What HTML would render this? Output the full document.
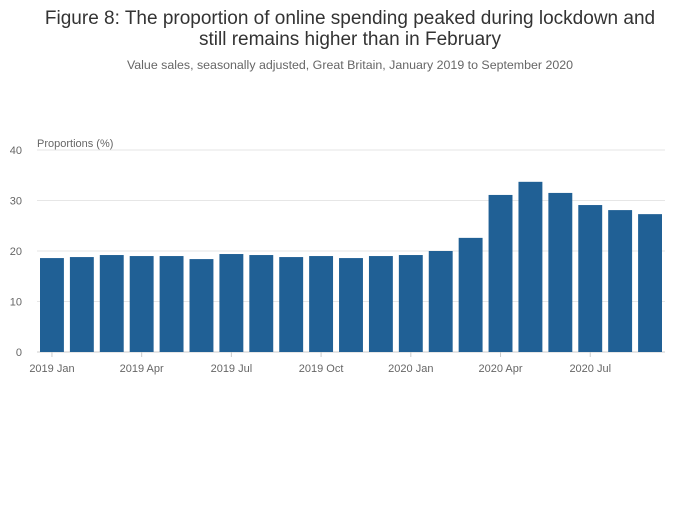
<!DOCTYPE html>
<html><head><meta charset="utf-8"><style>
body{margin:0;background:#fff;font-family:"Liberation Sans",sans-serif;}
</style></head><body>
<svg width="700" height="502" xmlns="http://www.w3.org/2000/svg">
<text x="350" y="24" text-anchor="middle" font-size="19" fill="#333">Figure 8: The proportion of online spending peaked during lockdown and</text>
<text x="350" y="45" text-anchor="middle" font-size="19" fill="#333">still remains higher than in February</text>
<text x="350" y="69" text-anchor="middle" font-size="12.4" fill="#666">Value sales, seasonally adjusted, Great Britain, January 2019 to September 2020</text>
<text x="37" y="147" font-size="11" fill="#666">Proportions (%)</text>
<g id="grid"></g><g id="bars"></g><g id="xt"></g>
</svg>
<script>
const categories=["2019 Jan","2019 Feb","2019 Mar","2019 Apr","2019 May","2019 Jun","2019 Jul","2019 Aug","2019 Sep","2019 Oct","2019 Nov","2019 Dec","2020 Jan","2020 Feb","2020 Mar","2020 Apr","2020 May","2020 Jun","2020 Jul","2020 Aug","2020 Sep"];
const values=[18.6,18.8,19.2,19.0,19.0,18.4,19.4,19.2,18.8,19.0,18.6,19.0,19.2,20.0,22.6,31.1,33.7,31.5,29.1,28.1,27.3];
const yTicks=[0,10,20,30,40];
const xTickLabels=["2019 Jan","2019 Apr","2019 Jul","2019 Oct","2020 Jan","2020 Apr","2020 Jul"];
const NS="http://www.w3.org/2000/svg";
const x0=37,x1=665,y0=352,y1=150,yMax=40;
const band=(x1-x0)/categories.length;
const ys=v=>y0-(v/yMax)*(y0-y1);
const xs=i=>x0+band*i;
const g=document.getElementById('grid'),b=document.getElementById('bars'),xt=document.getElementById('xt');
function mk(tag,attrs,parent){const e=document.createElementNS(NS,tag);for(const k in attrs)e.setAttribute(k,attrs[k]);parent.appendChild(e);return e;}
yTicks.forEach(t=>{
  const l=mk('line',{x1:x0,x2:x1,y1:ys(t),y2:ys(t),stroke:t===0?'#ccc':'#e6e6e6'},g);
  
  
  const tx=mk('text',{x:22,y:ys(t)+4,'text-anchor':'end','font-size':11,fill:'#666'},g);
  tx.textContent=t;
  
  
});
values.forEach((v,i)=>{
  const r=mk('rect',{x:xs(i)+3,y:ys(v),width:band-6,height:y0-ys(v),fill:'#206095'},b);
  
  
});
xTickLabels.forEach(lbl=>{
  const i=categories.indexOf(lbl);
  const cx=xs(i)+band/2;
  mk('line',{x1:cx,x2:cx,y1:y0,y2:y0+5,stroke:'#ccc'},xt);
  const tx=mk('text',{x:cx,y:y0+20,'text-anchor':'middle','font-size':11,fill:'#666'},xt);
  tx.textContent=lbl;
  
  
});
</script>
</body></html>
